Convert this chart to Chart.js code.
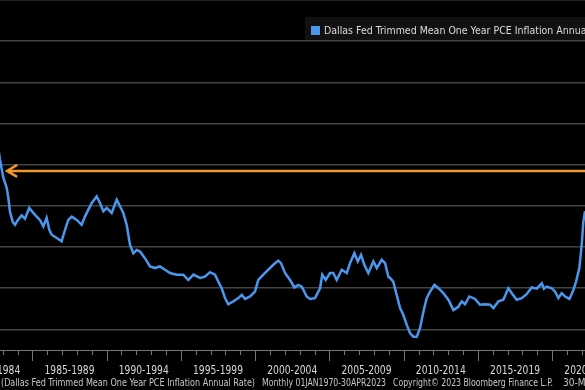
<!DOCTYPE html>
<html>
<head>
<meta charset="utf-8">
<script src="https://cdn.jsdelivr.net/npm/chart.js@4/dist/chart.umd.min.js"></script>
<style>
  html, body { margin: 0; padding: 0; background: #000; }
  #wrap { width: 585px; height: 390px; background: #000; }
</style>
</head>
<body>
<div id="wrap"><canvas id="chart" width="585" height="390"></canvas></div>
<script>
// dates as decimal years, values in %
const dates = [
  1982.70, 1982.82, 1983.04, 1983.27, 1983.38, 1983.49, 1983.68, 1983.83, 1984.03, 1984.28,
  1984.50, 1984.79, 1985.06, 1985.29, 1985.51, 1985.74, 1985.96, 1986.14, 1986.30, 1986.64,
  1986.97, 1987.20, 1987.42, 1987.65, 1987.98, 1988.32, 1988.54, 1988.77, 1989.00, 1989.33,
  1989.55, 1989.78, 1990.01, 1990.34, 1990.68, 1990.90, 1991.12, 1991.35, 1991.57, 1991.80,
  1992.03, 1992.25, 1992.58, 1992.92, 1993.26, 1993.59, 1993.93, 1994.27, 1994.72, 1995.16,
  1995.50, 1995.84, 1996.29, 1996.62, 1996.96, 1997.30, 1997.52, 1997.75, 1997.97, 1998.19,
  1998.53, 1998.87, 1999.10, 1999.32, 1999.66, 1999.99, 2000.21, 2000.55, 2000.89, 2001.22,
  2001.56, 2001.74, 2002.01, 2002.35, 2002.64, 2002.91, 2003.14, 2003.47, 2003.70, 2004.03,
  2004.37, 2004.52, 2004.75, 2005.04, 2005.26, 2005.49, 2005.83, 2006.17, 2006.39, 2006.68,
  2006.91, 2007.13, 2007.35, 2007.62, 2007.96, 2008.19, 2008.52, 2008.75, 2008.97, 2009.08,
  2009.30, 2009.53, 2009.76, 2009.98, 2010.21, 2010.43, 2010.65, 2010.88, 2011.10, 2011.33,
  2011.55, 2011.78, 2012.07, 2012.34, 2012.67, 2013.01, 2013.35, 2013.68, 2013.91, 2014.13,
  2014.42, 2014.81, 2015.14, 2015.48, 2015.82, 2016.04, 2016.38, 2016.71, 2017.05, 2017.28,
  2017.61, 2017.95, 2018.29, 2018.62, 2018.96, 2019.30, 2019.45, 2019.63, 2019.97, 2020.19,
  2020.42, 2020.64, 2020.87, 2021.16, 2021.39, 2021.61, 2021.83, 2021.99, 2022.10, 2022.21,
  2022.35
];
const values = [
  5.40, 5.12, 4.69, 4.44, 4.20, 3.86, 3.61, 3.54, 3.66, 3.77,
  3.69, 3.95, 3.83, 3.74, 3.66, 3.50, 3.71, 3.42, 3.30, 3.22,
  3.14, 3.42, 3.66, 3.74, 3.66, 3.54, 3.74, 3.91, 4.07, 4.23,
  4.07, 3.87, 3.95, 3.83, 4.15, 3.99, 3.83, 3.54, 3.06, 2.85,
  2.93, 2.89, 2.73, 2.53, 2.49, 2.53, 2.45, 2.37, 2.33, 2.33,
  2.20, 2.33, 2.25, 2.28, 2.39, 2.33, 2.16, 2.00, 1.76, 1.61,
  1.68, 1.76, 1.84, 1.74, 1.80, 1.92, 2.20, 2.33, 2.45, 2.57,
  2.67, 2.61, 2.37, 2.20, 2.02, 2.08, 2.04, 1.80, 1.74, 1.76,
  2.00, 2.33, 2.20, 2.37, 2.37, 2.20, 2.45, 2.37, 2.61, 2.85,
  2.65, 2.81, 2.57, 2.37, 2.65, 2.49, 2.69, 2.61, 2.28, 2.25,
  2.16, 1.84, 1.52, 1.35, 1.11, 0.91, 0.82, 0.82, 1.03, 1.43,
  1.76, 1.92, 2.08, 2.00, 1.88, 1.72, 1.47, 1.55, 1.68, 1.61,
  1.80, 1.74, 1.60, 1.61, 1.60, 1.52, 1.68, 1.72, 2.00, 1.88,
  1.72, 1.76, 1.86, 2.02, 1.99, 2.12, 1.99, 2.04, 2.00, 1.92,
  1.76, 1.88, 1.80, 1.74, 1.92, 2.16, 2.49, 3.06, 3.62, 3.87,
  4.20
];
const periodStarts = [1980, 1985, 1990, 1995, 2000, 2005, 2010, 2015, 2020];
const periodLabels = ['1980-1984', '1985-1989', '1990-1994', '1995-1999', '2000-2004',
                      '2005-2009', '2010-2014', '2015-2019', '2020-2024'];
const gridValues = [1, 2, 3, 4, 5, 6, 7, 8, 9];
const arrowLevel = 4.85;     // orange reference line
const arrowFrom = 1983.3;
const seriesLabel = 'Dallas Fed Trimmed Mean One Year PCE Inflation Annual Rate';
const footerParts = [
  '(Dallas Fed Trimmed Mean One Year PCE Inflation Annual Rate)',
  'Monthly 01JAN1970-30APR2023',
  'Copyright\u00A9 2023 Bloomberg Finance L.P.',
  '30-May-2023'
];
const footerX = [1, 262, 393, 563];
const footerW = [254, 124, 160, 60];

const lineColor = '#4a98ee';
const narrow = '"Liberation Sans Narrow", "DejaVu Sans Condensed", sans-serif';

const bbgDecor = {
  id: 'bbgDecor',
  beforeDraw(chart) {
    const { ctx } = chart;
    ctx.save();
    ctx.fillStyle = '#000';
    ctx.fillRect(0, 0, chart.width, chart.height);
    ctx.restore();
  },
  beforeDatasetsDraw(chart) {
    const { ctx } = chart;
    const x = chart.scales.x, y = chart.scales.y;
    const py = y.getPixelForValue(arrowLevel);
    const px = x.getPixelForValue(arrowFrom);
    ctx.save();
    ctx.strokeStyle = '#f0972c';
    ctx.lineWidth = 2.5;
    ctx.beginPath();
    ctx.moveTo(px, py);
    ctx.lineTo(chart.width, py);
    ctx.moveTo(px + 10, py - 6);
    ctx.lineTo(px, py);
    ctx.lineTo(px + 10, py + 6);
    ctx.stroke();
    ctx.restore();
  },
  afterDraw(chart) {
    const { ctx, chartArea } = chart;
    const x = chart.scales.x;
    const base = chartArea.bottom;
    ctx.save();
    // axis line
    ctx.strokeStyle = '#777';
    ctx.lineWidth = 1;
    ctx.beginPath();
    ctx.moveTo(0, base + 0.5);
    ctx.lineTo(chart.width, base + 0.5);
    // yearly ticks, longer every 5 years
    for (let yr = Math.ceil(x.min); yr <= x.max; yr++) {
      const p = Math.round(x.getPixelForValue(yr)) + 0.5;
      ctx.moveTo(p, base);
      ctx.lineTo(p, base + (yr % 5 === 0 ? 11 : 5));
    }
    ctx.stroke();

    // period labels
    ctx.fillStyle = '#d8d8d8';
    ctx.font = '12px ' + narrow;
    ctx.textAlign = 'center';
    ctx.textBaseline = 'middle';
    periodStarts.forEach((s, i) => {
      ctx.fillText(periodLabels[i], x.getPixelForValue(s + 2.5), base + 21, 50);
    });

    // footer
    ctx.fillStyle = '#c8c8c8';
    ctx.font = '10px ' + narrow;
    ctx.textAlign = 'left';
    footerParts.forEach((t, i) => ctx.fillText(t, footerX[i], base + 33, footerW[i]));

    // legend box
    ctx.fillStyle = '#111';
    ctx.fillRect(305, 17, chart.width - 305, 23);
    ctx.fillStyle = lineColor;
    ctx.fillRect(311, 26, 9, 9);
    ctx.fillStyle = '#dcdcdc';
    ctx.font = '10.5px ' + narrow;
    ctx.fillText(seriesLabel, 324, 31);
    ctx.restore();
  }
};

new Chart(document.getElementById('chart'), {
  type: 'line',
  data: {
    datasets: [{
      label: seriesLabel,
      data: dates.map((d, i) => ({ x: d, y: values[i] })),
      borderColor: lineColor,
      borderWidth: 2.5,
      pointRadius: 0,
      tension: 0
    }]
  },
  options: {
    responsive: false,
    animation: false,
    layout: { padding: { left: 0, right: 0, top: 0, bottom: 40 } },
    scales: {
      x: {
        type: 'linear',
        min: 1982.82,
        max: 2022.21,
        display: false
      },
      y: {
        min: 0.5,
        max: 9,
        afterBuildTicks: (axis) => { axis.ticks = gridValues.map(v => ({ value: v })); },
        ticks: { display: false },
        border: { display: false },
        grid: { color: '#444', lineWidth: 1.5, drawTicks: false }
      }
    },
    plugins: {
      legend: { display: false },
      tooltip: { enabled: false }
    }
  },
  plugins: [bbgDecor]
});
</script>
</body>
</html>
